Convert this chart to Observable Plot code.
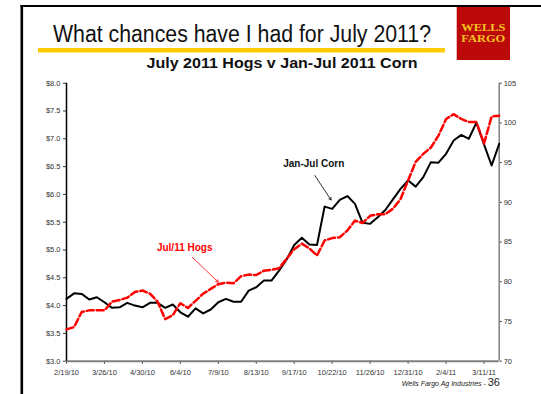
<!DOCTYPE html>
<html>
<head>
<meta charset="utf-8">
<script src="https://cdn.jsdelivr.net/npm/d3@7"></script>
<script src="https://cdn.jsdelivr.net/npm/@observablehq/plot@0.6"></script>
<style>
  body { margin: 0; background: #fff; }
  #page { position: relative; width: 541px; height: 394px; overflow: hidden; background: #fff; font-family: "Liberation Sans", Arial, sans-serif; }
  #head { position: absolute; left: 0; top: 0; }
  #chart { position: absolute; left: 0; top: 76px; }
  #over { position: absolute; left: 0; top: 0; pointer-events: none; }
</style>
</head>
<body>
<div id="page">
  <svg id="head" width="541" height="80">
    <text x="53" y="41.5" font-family="Liberation Sans, Arial, sans-serif" font-size="23" fill="#111" textLength="378" lengthAdjust="spacingAndGlyphs">What chances have I had for July 2011?</text>
    <rect x="38" y="48" width="407" height="4.5" fill="#FFCC00"></rect>
    <text x="146.5" y="68" font-family="Liberation Sans, Arial, sans-serif" font-size="14.5" font-weight="bold" fill="#111" textLength="271" lengthAdjust="spacingAndGlyphs">July 2011 Hogs v Jan-Jul 2011 Corn</text>
    <rect x="456.7" y="6" width="53.3" height="54" fill="#BC0A0A"></rect>
    <text x="483.3" y="30.7" text-anchor="middle" font-family="Liberation Serif, Times New Roman, serif" font-size="10.5" font-weight="bold" fill="#F4C21F" textLength="44" lengthAdjust="spacingAndGlyphs">WELLS</text>
    <text x="483.3" y="41.7" text-anchor="middle" font-family="Liberation Serif, Times New Roman, serif" font-size="10.5" font-weight="bold" fill="#F4C21F" textLength="44" lengthAdjust="spacingAndGlyphs">FARGO</text>
  </svg>
  <div id="chart"></div>
  <svg id="over" width="541" height="394">
    <rect x="20.5" y="5" width="520.5" height="2" fill="#000"></rect>
    <rect x="20.5" y="5" width="2.6" height="389" fill="#000"></rect>
    <text x="500" y="386" text-anchor="end" font-family="Liberation Sans, Arial, sans-serif" fill="#222"><tspan font-size="7" font-style="italic">Wells Fargo Ag Industries - </tspan><tspan font-size="11">36</tspan></text>
  </svg>
</div>
<script>
// ---- data ----
const startDate = "2010-02-19"; // first weekly observation
const corn = [4.12,4.22,4.21,4.11,4.15,4.06,3.96,3.97,4.05,4.00,
              3.97,4.05,4.05,3.96,4.02,3.88,3.80,3.95,3.86,3.93,
              4.06,4.12,4.07,4.07,4.27,4.33,4.45,4.45,4.63,4.83,
              5.09,5.22,5.10,5.09,5.78,5.74,5.90,5.97,5.83,5.49,
              5.47,5.59,5.72,5.91,6.10,6.25,6.14,6.31,6.58,6.57,
              6.73,6.97,7.07,7.00,7.29,6.90,6.52,6.91];
const hogs = [74.0,74.3,76.2,76.4,76.4,76.4,77.5,77.7,78.0,78.7,
              78.9,78.5,77.5,75.3,75.8,77.3,76.7,77.6,78.5,79.1,
              79.7,79.9,79.8,80.7,80.9,80.85,81.4,81.5,81.7,82.9,
              84.1,84.8,84.2,83.3,85.2,85.5,85.6,86.45,87.7,87.4,
              88.3,88.5,88.5,89.2,90.4,92.75,95.1,96.1,96.9,98.4,
              100.5,101.1,100.5,100.1,100.1,97.4,100.8,100.9];
const xTickLabels = ["2/19/10","3/26/10","4/30/10","6/4/10","7/9/10","8/13/10","9/17/10","10/22/10","11/26/10","12/31/10","2/4/11","3/11/11"];
const cornTicks = [3.0,3.5,4.0,4.5,5.0,5.5,6.0,6.5,7.0,7.5,8.0];
const hogTicks = [70,75,80,85,90,95,100,105];
const cornDomain = [3, 8];
const hogDomain = [70, 105];
const cornLabel = {date: "2010-10-05", value: 6.55, text: "Jan-Jul Corn"};
const cornArrow = {d1: "2010-10-06", v1: 6.34, d2: "2010-10-21", v2: 5.90};
const hogLabel = {date: "2010-06-08", value: 5.04, text: "Jul/11 Hogs"};
const hogArrow = {d1: "2010-06-15", v1: 4.87, d2: "2010-07-09", v2: 4.42};

// ---- build ----
const parseISO = d3.utcParse("%Y-%m-%d");
const parseTick = d3.utcParse("%m/%d/%y");
const d0 = parseISO(startDate);
const hogToY = h => cornDomain[0] + (h - hogDomain[0]) * (cornDomain[1] - cornDomain[0]) / (hogDomain[1] - hogDomain[0]);
const yToHog = y => hogDomain[0] + (y - cornDomain[0]) * (hogDomain[1] - hogDomain[0]) / (cornDomain[1] - cornDomain[0]);
const data = corn.map((c, i) => ({date: d3.utcDay.offset(d0, 7 * i), corn: c, hogY: hogToY(hogs[i])}));
const dEnd = data[data.length - 1].date;
const xTicks = xTickLabels.map(parseTick);

const chart = Plot.plot({
  width: 541,
  height: 318,
  marginLeft: 66,
  marginRight: 42.3,
  marginTop: 6.7,
  marginBottom: 33.3,
  x: {type: "utc", domain: [d0, dEnd]},
  y: {domain: cornDomain},
  style: {fontFamily: "Liberation Sans, Arial, sans-serif", fontSize: "7.5px", background: "transparent", overflow: "visible"},
  marks: [
    Plot.axisY({ticks: cornTicks, tickFormat: d => "$" + d.toFixed(1), tickSize: 3, tickPadding: 3, color: "#333", label: null}),
    Plot.axisY({anchor: "right", ticks: hogTicks.map(hogToY), tickFormat: d => String(Math.round(yToHog(d))), tickSize: 2, tickPadding: 2.5, color: "#333", label: null}),
    Plot.axisX({ticks: xTicks, tickFormat: d3.utcFormat("%-m/%-d/%y"), tickSize: 3, tickPadding: 5, color: "#333", label: null}),
    Plot.ruleX([dEnd], {stroke: "#808080", strokeWidth: 1.5}),
    Plot.ruleY([cornDomain[0]], {stroke: "#808080", strokeWidth: 2}),
    Plot.ruleX([d0], {stroke: "#000", strokeWidth: 1.5}),
    Plot.line(data, {x: "date", y: "corn", stroke: "#000", strokeWidth: 2}),
    Plot.line(data, {x: "date", y: "hogY", stroke: "#FF0000", strokeWidth: 2.5, strokeDasharray: "7,3"}),
    Plot.arrow([cornArrow], {x1: d => parseISO(d.d1), y1: "v1", x2: d => parseISO(d.d2), y2: "v2", stroke: "#000", strokeWidth: 0.8, headLength: 5}),
    Plot.arrow([hogArrow], {x1: d => parseISO(d.d1), y1: "v1", x2: d => parseISO(d.d2), y2: "v2", stroke: "#FF0000", strokeWidth: 0.8, headLength: 5}),
    Plot.text([cornLabel], {x: d => parseISO(d.date), y: "value", text: "text", fill: "#111", fontWeight: "bold", fontSize: 10}),
    Plot.text([hogLabel], {x: d => parseISO(d.date), y: "value", text: "text", fill: "#FF0000", fontWeight: "bold", fontSize: 10})
  ]
});
document.getElementById("chart").appendChild(chart);
</script>
</body>
</html>
